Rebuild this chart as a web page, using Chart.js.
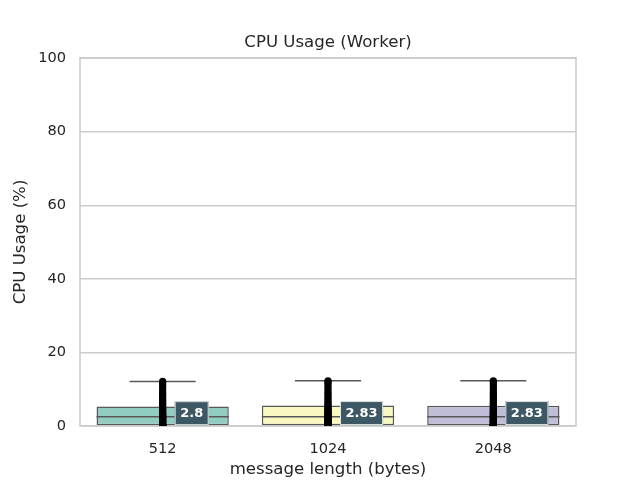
<!DOCTYPE html>
<html><head><meta charset="utf-8">
<script src="https://cdn.jsdelivr.net/npm/chart.js@4"></script>
<style>html,body{margin:0;padding:0;background:#fff}#wrap{width:640px;height:480px}</style>
</head><body><div id="wrap"><canvas id="c" width="640" height="480"></canvas></div>
<script>
const categories = ['512', '1024', '2048'];
const q1 = [0, 0, 0];
const medians = [2.5, 2.5, 2.5];
const q3 = [5.3, 5.6, 5.5];
const whiskerHigh = [12.1, 12.3, 12.3];
const means = [2.8, 2.83, 2.83];
const meanLabels = ['2.8', '2.83', '2.83'];
const samples512 = [0,0,0,0,0,0,0,0,0,0,0,0.1,0.2,0.3,0.4,0.5,0.7,0.8,1.0,1.1,1.3,1.5,1.6,1.8,2.0,2.2,2.4,2.5,2.7,2.9,3.1,3.3,3.6,3.8,4.1,4.4,4.7,5.0,5.3,5.7,6.1,6.5,7.0,7.4,7.9,8.4,8.9,9.5,10.1,10.7,11.3,11.8,12.1];
const samples1024 = [0,0,0,0,0,0,0,0,0,0,0,0.1,0.2,0.3,0.4,0.6,0.7,0.9,1.0,1.2,1.4,1.5,1.7,1.9,2.1,2.3,2.5,2.6,2.8,3.0,3.2,3.5,3.7,4.0,4.3,4.6,4.9,5.2,5.6,5.9,6.3,6.8,7.2,7.7,8.2,8.7,9.2,9.8,10.4,11.0,11.6,12.0,12.3];
const samples2048 = [0,0,0,0,0,0,0,0,0,0,0,0.1,0.2,0.3,0.5,0.6,0.8,0.9,1.1,1.2,1.4,1.6,1.7,1.9,2.1,2.3,2.5,2.6,2.8,3.0,3.2,3.4,3.7,3.9,4.2,4.5,4.8,5.1,5.5,5.8,6.2,6.7,7.1,7.6,8.1,8.6,9.1,9.7,10.3,10.9,11.5,12.0,12.3];
const sampleSets = [samples512, samples1024, samples2048];
const yTicks = [0, 20, 40, 60, 80, 100];
const boxColors = ['#92cdc1', '#f8f8c0', '#c0bdd8'];
const chartTitle = 'CPU Usage (Worker)';

const TEXT = '#262626';
const FONT = '"DejaVu Sans", sans-serif';

const points = [];
sampleSets.forEach((arr, i) => arr.forEach(v => points.push({x: categories[i], y: v})));

const boxPlugin = {
  id: 'boxExtras',
  afterDatasetDraw(chart, args) {
    if (args.index !== 0) return;
    const ctx = chart.ctx, xs = chart.scales.x, ys = chart.scales.y;
    const meta = chart.getDatasetMeta(0);
    ctx.save();
    ctx.strokeStyle = '#585858';
    ctx.lineWidth = 1.5;
    meta.data.forEach((bar, i) => {
      const cx = xs.getPixelForValue(i);
      const half = bar.width / 2;
      const ym = ys.getPixelForValue(medians[i]);
      ctx.beginPath(); ctx.moveTo(cx - half, ym); ctx.lineTo(cx + half, ym); ctx.stroke();
      const yq3 = ys.getPixelForValue(q3[i]);
      const yw = ys.getPixelForValue(whiskerHigh[i]);
      ctx.beginPath(); ctx.moveTo(cx, yq3); ctx.lineTo(cx, yw); ctx.stroke();
      ctx.beginPath(); ctx.moveTo(cx - half / 2, yw); ctx.lineTo(cx + half / 2, yw); ctx.stroke();
    });
    const a = chart.chartArea;
    ctx.strokeStyle = '#cccccc';
    ctx.lineWidth = 1.6;
    ctx.strokeRect(a.left, a.top, a.right - a.left, a.bottom - a.top);
    ctx.restore();
  },
  afterDatasetsDraw(chart) {
    const ctx = chart.ctx, xs = chart.scales.x, ys = chart.scales.y;
    ctx.save();
    ctx.font = 'bold 13px ' + FONT;
    ctx.textBaseline = 'middle';
    ctx.textAlign = 'left';
    meanLabels.forEach((t, i) => {
      const cx = xs.getPixelForValue(i);
      const cy = ys.getPixelForValue(means[i]) - 2.5;
      const w = ctx.measureText(t).width + 11;
      const h = 24;
      const x0 = cx + 12;
      ctx.fillStyle = '#3d5864';
      ctx.fillRect(x0, cy - h / 2, w, h);
      ctx.strokeStyle = '#dfe6e8';
      ctx.lineWidth = 1;
      ctx.strokeRect(x0 + 0.5, cy - h / 2 + 0.5, w - 1, h - 1);
      ctx.fillStyle = '#ffffff';
      ctx.fillText(t, x0 + 5.5, cy + 0.5);
    });
    const a = chart.chartArea;
    ctx.font = '16.6px ' + FONT;
    ctx.fillStyle = TEXT;
    ctx.textAlign = 'center';
    ctx.textBaseline = 'middle';
    ctx.fillText(chartTitle, (a.left + a.right) / 2, 43);
    ctx.restore();
  }
};

new Chart(document.getElementById('c'), {
  type: 'bar',
  data: {
    labels: categories,
    datasets: [
      {
        type: 'bar',
        data: categories.map((c, i) => [q1[i], q3[i]]),
        backgroundColor: boxColors,
        borderColor: '#585858',
        borderWidth: 1.5,
        borderSkipped: false,
        barPercentage: 0.8,
        categoryPercentage: 1,
        order: 2
      },
      {
        type: 'scatter',
        data: points,
        pointRadius: 3.6,
        pointBackgroundColor: '#000000',
        pointBorderWidth: 0,
        order: 1
      }
    ]
  },
  options: {
    responsive: false,
    animation: false,
    devicePixelRatio: 1,
    layout: {padding: {left: 0, right: 64, top: 58, bottom: 0}},
    plugins: {
      legend: {display: false},
      tooltip: {enabled: false},
      title: {display: false}
    },
    scales: {
      x: {
        type: 'category',
        offset: true,
        grid: {display: false, drawTicks: false},
        border: {display: false},
        ticks: {color: TEXT, font: {family: FONT, size: 14.6}, padding: 14},
        title: {display: true, text: 'message length (bytes)', color: TEXT, font: {family: FONT, size: 16.6}, padding: {top: 0, bottom: 0}},
        afterFit(s) { s.height = 54; }
      },
      y: {
        min: 0, max: 100,
        afterBuildTicks(s) { s.ticks = yTicks.map(v => ({value: v})); },
        grid: {color: '#cccccc', lineWidth: 1.4, drawTicks: false},
        border: {display: false},
        ticks: {color: TEXT, font: {family: FONT, size: 14.6}, padding: 14},
        title: {display: true, text: 'CPU Usage (%)', color: TEXT, font: {family: FONT, size: 16.6}, padding: {top: 11, bottom: 0}},
        afterFit(s) { s.width = 80; }
      }
    }
  },
  plugins: [boxPlugin]
});
</script></body></html>
